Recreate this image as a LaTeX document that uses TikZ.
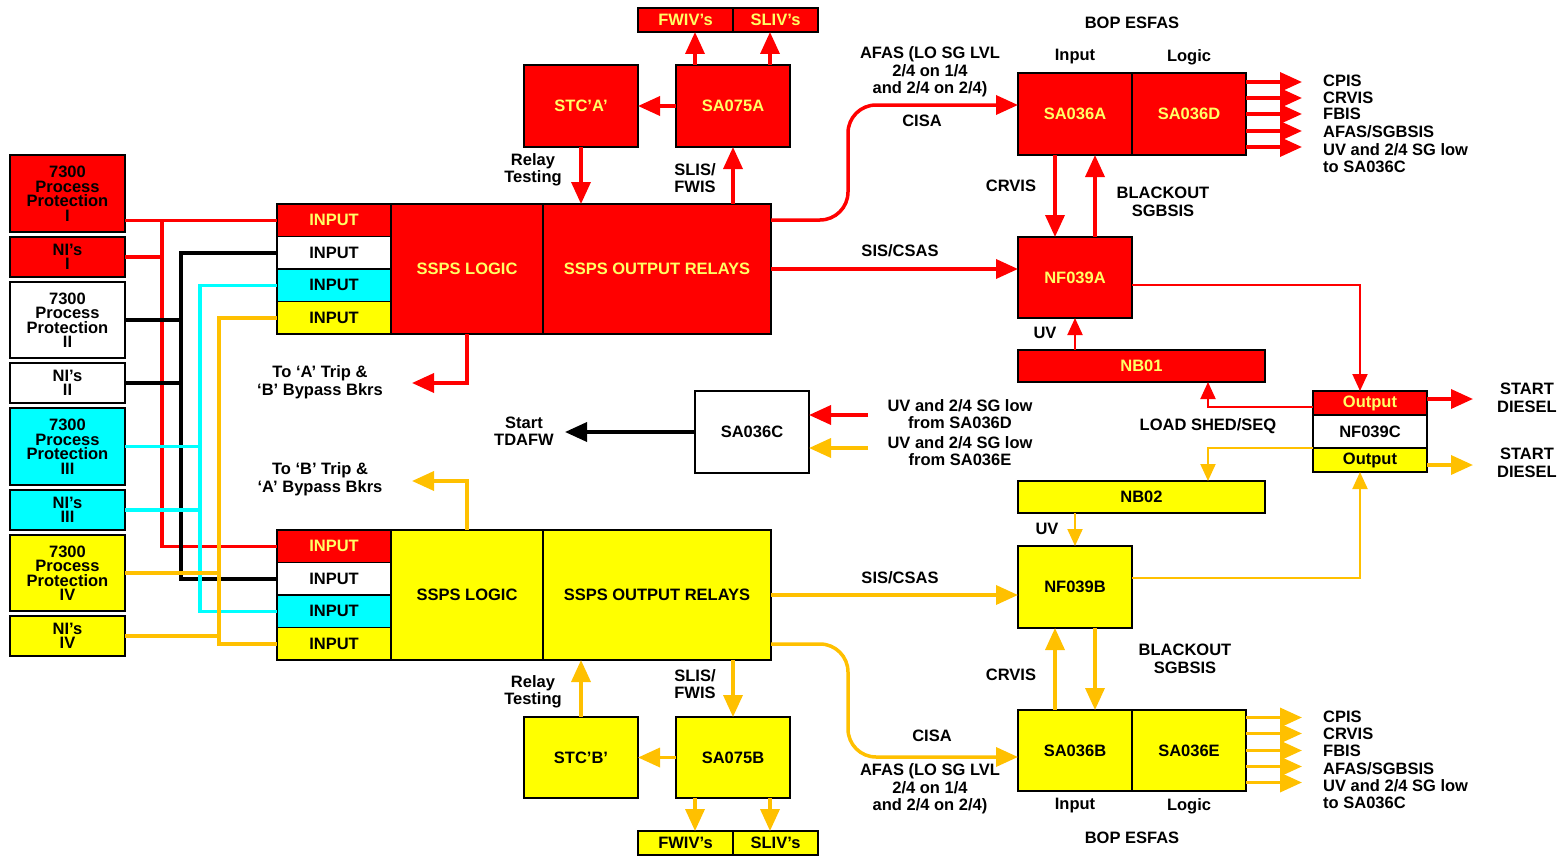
\documentclass[tikz,border=0pt]{standalone}
\usepackage{fontspec}
\setmainfont{Liberation Sans}
\usetikzlibrary{arrows.meta,calc}
\definecolor{rd}{HTML}{FF0000}
\definecolor{yl}{HTML}{FFFF00}
\definecolor{og}{HTML}{FFC000}
\definecolor{cy}{HTML}{00FFFF}
\definecolor{ptxt}{HTML}{FFFF66}
\begin{document}
\begin{tikzpicture}[x=1pt,y=-1pt,
 font=\fontsize{16.5}{17.5}\selectfont\bfseries,
 box/.style={draw=black, line width=1.2pt, inner sep=0pt, outer sep=0pt, anchor=north west, align=center},
 lft/.style={box, minimum width=115pt, font=\fontsize{16.5}{14.5}\selectfont\bfseries},
 rbox/.style={box, fill=rd, text=ptxt},
 ybox/.style={box, fill=yl, text=black},
 lbl/.style={inner sep=0pt, align=center},
 wire/.style={line width=3.5pt},
 thinw/.style={line width=2pt},
 arr/.style={-{Triangle[length=22pt,width=19pt]}},
 arrs/.style={-{Triangle[length=17pt,width=15pt]}},
]
\useasboundingbox (0,0) rectangle (1567,859);

% helper coordinates
\coordinate (xFW) at (695,0);
\coordinate (xSL) at (770,0);
\coordinate (xCr) at (1055,0);
\coordinate (xBl) at (1095,0);
\coordinate (xV) at (1360,0);
\coordinate (xLS) at (1208,0);
\coordinate (bR) at (162,0);
\coordinate (bK) at (181,0);
\coordinate (bC) at (200,0);
\coordinate (bY) at (219,0);
\coordinate (tripA) at (412,383);
\coordinate (tripB) at (412,481);
\coordinate (tdafw) at (565,432);
\coordinate (rIn) at (868,415);
\coordinate (yIn) at (868,448);

% left column
\node[lft, fill=rd, minimum height=77pt] (pp1) at (10,155) {7300\\Process\\Protection\\I};
\node[lft, fill=rd, minimum height=40pt] (ni1) at (10,237) {NI’s\\I};
\node[lft, fill=white, minimum height=76pt] (pp2) at (10,282) {7300\\Process\\Protection\\II};
\node[lft, fill=white, minimum height=40pt] (ni2) at (10,363) {NI’s\\II};
\node[lft, fill=cy, minimum height=77pt] (pp3) at (10,408) {7300\\Process\\Protection\\III};
\node[lft, fill=cy, minimum height=40pt] (ni3) at (10,490) {NI’s\\III};
\node[lft, fill=yl, minimum height=76pt] (pp4) at (10,535) {7300\\Process\\Protection\\IV};
\node[lft, fill=yl, minimum height=40pt] (ni4) at (10,616) {NI’s\\IV};

% SSPS train A
\node[rbox, minimum width=114pt, minimum height=32.5pt] (in1a) at (277,204) {INPUT};
\node[box, fill=white, minimum width=114pt, minimum height=32.5pt] (in1b) at (277,236.5) {INPUT};
\node[box, fill=cy, minimum width=114pt, minimum height=32.5pt] (in1c) at (277,269) {INPUT};
\node[ybox, minimum width=114pt, minimum height=32.5pt] (in1d) at (277,301.5) {INPUT};
\node[rbox, minimum width=152pt, minimum height=130pt] (logic1) at (391,204) {SSPS LOGIC};
\node[rbox, minimum width=228pt, minimum height=130pt] (out1) at (543,204) {SSPS OUTPUT RELAYS};

% SSPS train B
\node[rbox, minimum width=114pt, minimum height=32.5pt] (in2a) at (277,530) {INPUT};
\node[box, fill=white, minimum width=114pt, minimum height=32.5pt] (in2b) at (277,562.5) {INPUT};
\node[box, fill=cy, minimum width=114pt, minimum height=32.5pt] (in2c) at (277,595) {INPUT};
\node[ybox, minimum width=114pt, minimum height=32.5pt] (in2d) at (277,627.5) {INPUT};
\node[ybox, minimum width=152pt, minimum height=130pt] (logic2) at (391,530) {SSPS LOGIC};
\node[ybox, minimum width=228pt, minimum height=130pt] (out2) at (543,530) {SSPS OUTPUT RELAYS};

% bus wires
\draw[wire, rd] (pp1.east |- in1a.west) -- (in1a.west);
\draw[wire, rd] (ni1.east) -- (ni1.east -| bR);
\draw[wire, rd] (bR |- in1a.west) -- (bR |- in2a.west) -- (in2a.west);
\draw[wire, black] (pp2.east) -- (pp2.east -| bK);
\draw[wire, black] (ni2.east) -- (ni2.east -| bK);
\draw[wire, black] (in1b.west) -| (bK |- in2b.west) -- (in2b.west);
\draw[wire, cy] (pp3.east) -- (pp3.east -| bC);
\draw[wire, cy] (ni3.east) -- (ni3.east -| bC);
\draw[wire, cy] (in1c.west) -| (bC |- in2c.west) -- (in2c.west);
\draw[wire, og] (pp4.east) -- (pp4.east -| bY);
\draw[wire, og] (ni4.east) -- (ni4.east -| bY);
\draw[wire, og] (in1d.west) -| (bY |- in2d.west) -- (in2d.west);

% top: STC'A', SA075A
\node[rbox, minimum width=114pt, minimum height=82pt] (stca) at (524,65) {STC’A’};
\node[rbox, minimum width=114pt, minimum height=82pt] (sa75a) at (676,65) {SA075A};
\node[rbox, minimum width=95pt, minimum height=24pt] (fwa) at (638,8) {FWIV’s};
\node[rbox, minimum width=85pt, minimum height=24pt] (sla) at (733,8) {SLIV’s};
\draw[wire, rd, arr] (sa75a.north -| xFW) -- (fwa.south -| xFW);
\draw[wire, rd, arr] (sa75a.north -| xSL) -- (sla.south -| xSL);
\draw[wire, rd, arr] (sa75a.west) -- (stca.east);
\draw[wire, rd, arr] (stca.south) -- (stca.south |- out1.north);
\draw[wire, rd, arr] (out1.north -| sa75a.south) -- (sa75a.south);
\node[lbl] (rt1) at (533,170) {Relay\\Testing};
\node[lbl] (sf1) at (695,178) {SLIS/\\FWIS};

% bottom: STC'B', SA075B
\node[ybox, minimum width=114pt, minimum height=81pt] (stcb) at (524,717) {STC’B’};
\node[ybox, minimum width=114pt, minimum height=81pt] (sa75b) at (676,717) {SA075B};
\node[ybox, minimum width=95pt, minimum height=24pt] (fwb) at (638,831) {FWIV’s};
\node[ybox, minimum width=85pt, minimum height=24pt] (slb) at (733,831) {SLIV’s};
\draw[wire, og, arr] (sa75b.south -| xFW) -- (fwb.north -| xFW);
\draw[wire, og, arr] (sa75b.south -| xSL) -- (slb.north -| xSL);
\draw[wire, og, arr] (sa75b.west) -- (stcb.east);
\draw[wire, og, arr] (stcb.north) -- (stcb.north |- out2.south);
\draw[wire, og, arr] (out2.south -| sa75b.north) -- (sa75b.north);
\node[lbl] (rt2) at (533,692) {Relay\\Testing};
\node[lbl] (sf2) at (695,684) {SLIS/\\FWIS};

% trip outputs
\draw[wire, rd, arr] (logic1.south) |- (tripA);
\draw[wire, og, arr] (logic2.north) |- (tripB);
\node[lbl] (tla) at (320,382) {To ‘A’ Trip \&\\‘B’ Bypass Bkrs};
\node[lbl] (tlb) at (320,479) {To ‘B’ Trip \&\\‘A’ Bypass Bkrs};

% SA036C
\node[box, fill=white, minimum width=114pt, minimum height=82pt] (sa36c) at (695,391) {SA036C};
\draw[wire, black, arr] (sa36c.west) -- (tdafw);
\node[lbl] (tdl) at (524,431) {Start\\TDAFW};
\draw[wire, rd, arr] (rIn) -- (rIn -| sa36c.east);
\draw[wire, og, arr] (yIn) -- (yIn -| sa36c.east);
\node[lbl] (uvd) at (960,414) {UV and 2/4 SG low\\from SA036D};
\node[lbl] (uve) at (960,451) {UV and 2/4 SG low\\from SA036E};

% BOP ESFAS A
\node[lbl] (bopa) at (1132,23) {BOP ESFAS};
\node[lbl] (inpa) at (1075,57) {Input};
\node[lbl] (loga) at (1189,57) {Logic};
\node[rbox, minimum width=114pt, minimum height=82pt] (sa36a) at (1018,73) {SA036A};
\node[rbox, minimum width=114pt, minimum height=82pt] (sa36d) at (1132,73) {SA036D};
\draw[wire, rd, arr, rounded corners=28pt] ([yshift=-16pt]out1.north east) -| ([xshift=-170pt,yshift=9pt]sa36a.west) -- ([yshift=9pt]sa36a.west);
\node[lbl] (afa) at (930,72) {AFAS (LO SG LVL\\2/4 on 1/4\\and 2/4 on 2/4)};
\node[lbl] (cisaa) at (922,121) {CISA};
\foreach \dy in {32,16,0,-17,-33} \draw[wire, rd, arr] ([yshift=\dy pt]sa36d.east) -- ++(56,0);
\node[lbl, anchor=base west] (la1) at (1323,86) {CPIS};
\node[lbl, anchor=base west] (la2) at (1323,103) {CRVIS};
\node[lbl, anchor=base west] (la3) at (1323,120) {FBIS};
\node[lbl, anchor=base west] (la4) at (1323,137) {AFAS/SGBSIS};
\node[lbl, anchor=base west] (la5) at (1323,155) {UV and 2/4 SG low};
\node[lbl, anchor=base west] (la6) at (1323,172) {to SA036C};

\node[rbox, minimum width=114pt, minimum height=81pt] (nf39a) at (1018,237) {NF039A};
\draw[wire, rd, arr] (sa36a.south -| xCr) -- (nf39a.north -| xCr);
\draw[wire, rd, arr] (nf39a.north -| xBl) -- (sa36a.south -| xBl);
\node[lbl] (cra) at (1011,186) {CRVIS};
\node[lbl] (bsa) at (1163,202) {BLACKOUT\\SGBSIS};
\draw[wire, rd, arr] (out1.east) -- (out1.east -| nf39a.west);
\node[lbl] (sisa) at (900,251) {SIS/CSAS};

\node[rbox, minimum width=247pt, minimum height=32pt] (nb01) at (1018,350) {NB01};
\draw[thinw, rd, arrs] (nb01.north -| nf39a.south) -- (nf39a.south);
\node[lbl] (uva) at (1045,333) {UV};

% NF039C
\node[rbox, minimum width=114pt, minimum height=24pt] (oR) at (1313,391) {Output};
\node[box, fill=white, minimum width=114pt, minimum height=33pt] (nf39c) at (1313,415) {NF039C};
\node[ybox, minimum width=114pt, minimum height=24pt] (oY) at (1313,448) {Output};
\draw[thinw, rd, arrs] ([yshift=-7.5pt]nf39a.east) -| (oR.north -| xV);
\draw[thinw, rd, arrs] ([yshift=-4pt]oR.west) -| (nb01.south -| xLS);
\node[lbl] (lss) at (1208,426) {LOAD SHED/SEQ};
\draw[wire, rd, arr] ([yshift=4pt]oR.east) -- ++(46,0);
\draw[wire, og, arr] ([yshift=-5pt]oY.east) -- ++(46,0);
\node[lbl] (sd1) at (1527,398) {START\\DIESEL};
\node[lbl] (sd2) at (1527,463) {START\\DIESEL};

\node[ybox, minimum width=247pt, minimum height=32pt] (nb02) at (1018,481) {NB02};
\draw[thinw, og, arrs] (oY.north west) -| (nb02.north -| xLS);
\node[ybox, minimum width=114pt, minimum height=82pt] (nf39b) at (1018,546) {NF039B};
\draw[thinw, og, arrs] (nb02.south -| nf39b.north) -- (nf39b.north);
\node[lbl] (uvb) at (1047,529) {UV};
\draw[thinw, og, arrs] ([yshift=9pt]nf39b.east) -| (oY.south -| xV);
\draw[wire, og, arr] (out2.east) -- (out2.east -| nf39b.west);
\node[lbl] (sisb) at (900,578) {SIS/CSAS};

% BOP ESFAS B
\node[ybox, minimum width=114pt, minimum height=81pt] (sa36b) at (1018,710) {SA036B};
\node[ybox, minimum width=114pt, minimum height=81pt] (sa36e) at (1132,710) {SA036E};
\draw[wire, og, arr] (sa36b.north -| xCr) -- (nf39b.south -| xCr);
\draw[wire, og, arr] (nf39b.south -| xBl) -- (sa36b.north -| xBl);
\node[lbl] (crb) at (1011,675) {CRVIS};
\node[lbl] (bsb) at (1185,659) {BLACKOUT\\SGBSIS};
\draw[wire, og, arr, rounded corners=28pt] ([yshift=16pt]out2.south east) -| ([xshift=-170pt,yshift=-6.5pt]sa36b.west) -- ([yshift=-6.5pt]sa36b.west);
\node[lbl] (cisab) at (932,736) {CISA};
\node[lbl] (afb) at (930,789) {AFAS (LO SG LVL\\2/4 on 1/4\\and 2/4 on 2/4)};
\foreach \dy in {33,17,0,-16,-32} \draw[wire, og, arr] ([yshift=\dy pt]sa36e.east) -- ++(56,0);
\node[lbl, anchor=base west] (lb1) at (1323,722) {CPIS};
\node[lbl, anchor=base west] (lb2) at (1323,739) {CRVIS};
\node[lbl, anchor=base west] (lb3) at (1323,756) {FBIS};
\node[lbl, anchor=base west] (lb4) at (1323,774) {AFAS/SGBSIS};
\node[lbl, anchor=base west] (lb5) at (1323,791) {UV and 2/4 SG low};
\node[lbl, anchor=base west] (lb6) at (1323,808) {to SA036C};
\node[lbl] (inpb) at (1075,806) {Input};
\node[lbl] (logb) at (1189,806) {Logic};
\node[lbl] (bopb) at (1132,838) {BOP ESFAS};
\end{tikzpicture}
\end{document}
